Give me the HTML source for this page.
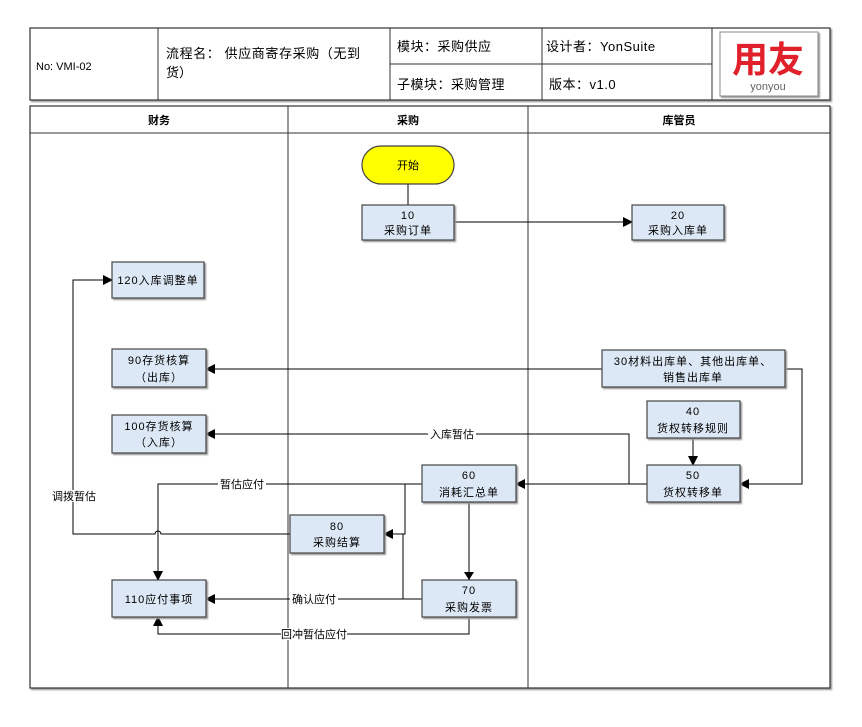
<!DOCTYPE html>
<html><head><meta charset="utf-8"><style>
body{margin:0;background:#fff}
svg text{font-family:"Liberation Sans","Noto Sans CJK SC",sans-serif;font-size:11px;fill:#000}
.b{fill:#dce8f5;stroke:#444;stroke-width:1.2}
.l{stroke:#000;stroke-width:1;fill:none}
.g{stroke:#555;stroke-width:1.5;fill:none}
.n text{letter-spacing:1px}
</style></head><body>
<svg width="862" height="722" viewBox="0 0 862 722" xmlns="http://www.w3.org/2000/svg">
<defs>
<marker id="a" markerWidth="10" markerHeight="10" refX="9" refY="5" orient="auto" markerUnits="userSpaceOnUse"><path d="M0,0 L10,5 L0,10 z" fill="#000"/></marker>
<filter id="s"><feDropShadow dx="1.5" dy="1.5" stdDeviation="0.8" flood-color="#999"/></filter>
</defs>
<rect x="30" y="28" width="800" height="72" fill="#fff" stroke="#333" stroke-width="1.2" filter="url(#s)"/>
<g stroke="#333">
<line x1="158" y1="28" x2="158" y2="100"/>
<line x1="390" y1="28" x2="390" y2="100"/>
<line x1="542" y1="28" x2="542" y2="100"/>
<line x1="712" y1="28" x2="712" y2="100"/>
<line x1="390" y1="64" x2="712" y2="64"/>
</g>
<text x="36" y="70" font-size="12">No: VMI-02</text>
<text x="166" y="58" style="font-size:13px;letter-spacing:0.6px">流程名： 供应商寄存采购（无到</text>
<text x="166" y="77" style="font-size:13px">货）</text>
<text x="397" y="51" style="font-size:13px;letter-spacing:0.5px">模块：采购供应</text>
<text x="397" y="89" style="font-size:13px;letter-spacing:0.5px">子模块：采购管理</text>
<text x="546" y="51" style="font-size:13px;letter-spacing:0.5px">设计者：YonSuite</text>
<text x="549" y="89" style="font-size:13px;letter-spacing:0.5px">版本：v1.0</text>
<rect x="720" y="32" width="98" height="64" fill="#fff" stroke="#888" filter="url(#s)"/>
<text x="768" y="72" text-anchor="middle" style="font-size:36px;font-weight:bold;fill:#e0202a">用友</text>
<text x="768" y="90" text-anchor="middle" style="font-size:11px;fill:#666">yonyou</text>
<rect x="30" y="106" width="800" height="582" fill="#fff" stroke="#333" stroke-width="1.2" filter="url(#s)"/>
<line x1="30" y1="133" x2="830" y2="133" stroke="#333"/>
<line x1="288" y1="106" x2="288" y2="688" stroke="#333"/>
<line x1="528" y1="106" x2="528" y2="688" stroke="#333"/>
<text x="159" y="124" text-anchor="middle" font-weight="bold">财务</text>
<text x="408" y="124" text-anchor="middle" font-weight="bold">采购</text>
<text x="679" y="124" text-anchor="middle" font-weight="bold">库管员</text>
<line class="l" x1="408" y1="184" x2="408" y2="205"/>
<line class="l" x1="454" y1="222" x2="632" y2="222" marker-end="url(#a)"/>
<line class="l" x1="602" y1="369" x2="206" y2="369" marker-end="url(#a)"/>
<polyline class="l" points="785,369 802,369 802,484 740,484" marker-end="url(#a)"/>
<line class="l" x1="693" y1="438" x2="693" y2="465" marker-end="url(#a)"/>
<line class="l" x1="647" y1="484" x2="516" y2="484" marker-end="url(#a)"/>
<polyline class="l" points="629,484 629,434 206,434" marker-end="url(#a)"/>
<polyline class="l" points="422,484 158,484 158,580" marker-end="url(#a)"/>
<polyline class="l" points="405,484 405,534 384,534" marker-end="url(#a)"/>
<path class="l" d="M290,534 L161,534 A3,3 0 0 0 155,534 L73,534 L73,280 L112,280" marker-end="url(#a)"/>
<line class="g" x1="469" y1="502" x2="469" y2="580"/>
<path d="M464,572 L474,572 L469,580 z" fill="#000"/>
<line class="l" x1="422" y1="599" x2="206" y2="599" marker-end="url(#a)"/>
<polyline class="l" points="403,599 403,534"/>
<polyline class="l" points="469,617 469,634 158,634 158,617" marker-end="url(#a)"/>
<g>
<rect x="428" y="428" width="48" height="12" fill="#fff"/><text x="452" y="438" text-anchor="middle" font-size="9">入库暂估</text>
<rect x="218" y="478" width="48" height="12" fill="#fff"/><text x="242" y="488" text-anchor="middle" font-size="9">暂估应付</text>
<rect x="50" y="490" width="48" height="12" fill="#fff"/><text x="74" y="500" text-anchor="middle" font-size="9">调拨暂估</text>
<rect x="290" y="593" width="48" height="12" fill="#fff"/><text x="314" y="603" text-anchor="middle" font-size="9">确认应付</text>
<rect x="281" y="628" width="66" height="12" fill="#fff"/><text x="314" y="638" text-anchor="middle" font-size="9">回冲暂估应付</text>
</g>
<rect x="362" y="146" width="92" height="38" rx="19" fill="#ffff00" stroke="#444" stroke-width="1.2"/>
<text x="408" y="169" text-anchor="middle" font-size="10">开始</text>
<g filter="url(#s)">
<rect class="b" x="362" y="205" width="92" height="35"/>
<rect class="b" x="632" y="205" width="92" height="35"/>
<rect class="b" x="112" y="262" width="92" height="36"/>
<rect class="b" x="112" y="349" width="94" height="38"/>
<rect class="b" x="112" y="415" width="94" height="38"/>
<rect class="b" x="422" y="465" width="94" height="37"/>
<rect class="b" x="290" y="515" width="94" height="38"/>
<rect class="b" x="422" y="580" width="94" height="37"/>
<rect class="b" x="112" y="580" width="94" height="37"/>
<rect class="b" x="602" y="350" width="183" height="37"/>
<rect class="b" x="647" y="401" width="93" height="37"/>
<rect class="b" x="647" y="465" width="93" height="37"/>
</g>
<g text-anchor="middle" class="n">
<text x="408" y="219">10</text><text x="408" y="234">采购订单</text>
<text x="678" y="219">20</text><text x="678" y="234">采购入库单</text>
<text x="158" y="284">120入库调整单</text>
<text x="159" y="364">90存货核算</text><text x="159" y="381">（出库）</text>
<text x="159" y="430">100存货核算</text><text x="159" y="446">（入库）</text>
<text x="469" y="479">60</text><text x="469" y="496">消耗汇总单</text>
<text x="337" y="530">80</text><text x="337" y="546">采购结算</text>
<text x="469" y="594">70</text><text x="469" y="611">采购发票</text>
<text x="159" y="603">110应付事项</text>
<text x="693" y="365">30材料出库单、其他出库单、</text><text x="693" y="381">销售出库单</text>
<text x="693" y="415">40</text><text x="693" y="432">货权转移规则</text>
<text x="693" y="479">50</text><text x="693" y="496">货权转移单</text>
</g>
</svg>
</body></html>
